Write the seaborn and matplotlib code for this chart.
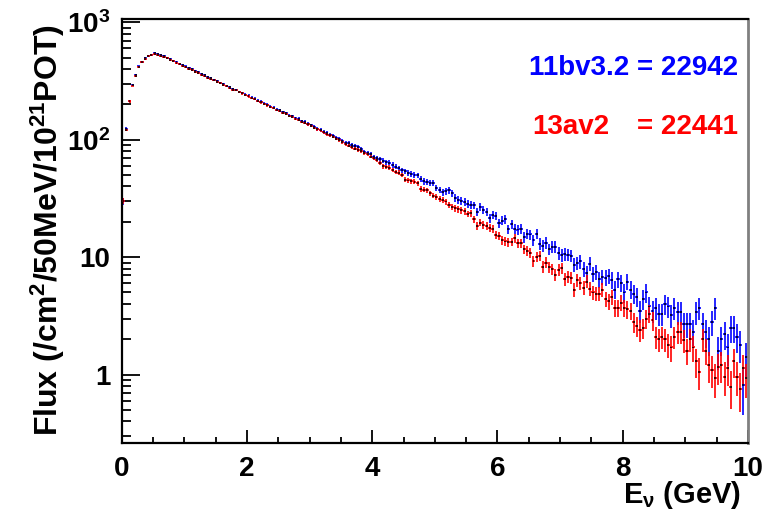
import numpy as np
import pandas as pd
import matplotlib
matplotlib.use("Agg")
import matplotlib.pyplot as plt
import seaborn as sns
from matplotlib.ticker import FixedLocator, LogLocator, MultipleLocator, NullFormatter

# -----------------------------
# Data (flux per 50 MeV bin)
# -----------------------------
BIN_WIDTH = 0.05  # GeV

flux_11bv32 = [
    30, 123, 214, 293, 356, 421, 462, 493, 520, 531,
    548, 538, 527, 513, 500, 484, 472, 457, 446, 432,
    421, 407, 398, 384, 375, 363, 354, 342, 334, 323,
    316, 305, 298, 288, 281, 271, 266, 256, 251, 242,
    237, 228, 224, 215, 211, 203, 199, 192, 188, 181,
    178, 171, 168, 161, 159, 152, 150, 144, 142, 136,
    133, 128, 124, 121, 117, 114, 110, 108, 104, 101,
    97, 94, 93, 90, 88, 86, 83, 79, 77, 75,
    71, 70, 68, 66.5, 64.5, 64, 61, 59, 57, 55,
    53.7, 52, 51, 50, 49.7, 46, 44.2, 43.5, 43, 42.8,
    39, 37.5, 35.8, 36.5, 37.2, 35, 32, 30.8, 30.2, 29.5,
    28.5, 27.9, 27.6, 24.2, 26.7, 25.3, 24.2, 21.5, 22.9, 22.5,
    19.5, 20.5, 21.1, 17.3, 19.1, 17.5, 17.2, 17.4, 14.8, 15.8,
    15.6, 14.0, 15.8, 13.0, 12.5, 13.3, 11.7, 12.3, 12.2, 10.8,
    10.4, 10.6, 10.5, 10.3, 8.6, 8.9, 9.2, 7.9, 7.3, 8.8,
    7.2, 7.5, 6.5, 6.8, 6.7, 6.9, 6.4, 5.3, 6.5, 6.0,
    5.0, 6.2, 5.3, 4.9, 4.6, 3.5, 4.4, 5.0, 3.8, 3.5,
    3.7, 3.3, 3.3, 4.0, 3.8, 3.2, 3.7, 3.4, 3.4, 2.7,
    2.7, 2.7, 2.3, 3.4, 3.7, 2.7, 2.3, 2.0, 2.8, 3.7,
    1.6, 2.0, 2.2, 1.7, 2.5, 2.5, 2.1, 1.8, 0.81, 1.4,
]

flux_13av2 = [
    30, 122, 212, 290, 352, 416, 456, 487, 513, 524,
    535, 532, 521, 507, 494, 480, 467, 453, 441, 428,
    416, 403, 393, 381, 371, 359, 350, 339, 330, 320,
    312, 302, 295, 285, 278, 268, 263, 253, 248, 240,
    234, 226, 221, 213, 208, 201, 196, 190, 186, 179,
    176, 169, 166, 160, 157, 150, 148, 143, 140, 135,
    132, 127, 123, 120, 116, 112, 109, 106, 102, 99,
    95, 92, 89, 87, 84, 82, 79.6, 77, 75, 72,
    70, 67.6, 63, 59.3, 58.5, 58, 55.5, 53, 52.5, 50.3,
    45.6, 45, 44.5, 44, 42.8, 38.2, 37.5, 37, 35.1, 33.5,
    32.4, 31.5, 30.5, 29.8, 28, 27, 26.1, 25.5, 25, 24.5,
    23.4, 23.7, 21.1, 18.5, 19.7, 18.8, 18.5, 17.7, 17.3, 15.5,
    15.2, 14.0, 13.6, 13.4, 13.5, 14.5, 13.2, 13.1, 11.7, 11.3,
    10.9, 9.2, 10.1, 10.3, 8.3, 9.0, 8.2, 7.9, 7.1, 7.8,
    8.1, 6.5, 6.8, 6.7, 5.3, 6.4, 6.0, 5.5, 6.2, 5.4,
    5.0, 4.9, 4.9, 5.3, 4.4, 4.2, 4.6, 3.7, 3.7, 4.1,
    3.7, 3.6, 3.5, 2.8, 2.6, 2.4, 2.5, 3.0, 3.3, 2.9,
    2.1, 2.0, 2.1, 2.0, 1.8, 1.7, 2.1, 2.3, 2.3, 1.97,
    1.6, 2.0, 1.7, 1.3, 1.06, 2.0, 1.6, 1.2, 1.1, 0.93,
    1.15, 1.2, 0.96, 1.13, 0.79, 1.3, 0.96, 0.76, 1.13, 0.93,
]

versions = ["11bv3.2", "13av2"]
totals = ["22942", "22441"]
colors = {"11bv3.2": "#0000ff", "13av2": "#ff0000"}
marker_colors = {"11bv3.2": "#000044", "13av2": "#440000"}
# MC statistics scale for the Poisson-like error bars
mc_scale = {"11bv3.2": 0.16, "13av2": 0.10}

energy = (np.arange(len(flux_11bv32)) + 0.5) * BIN_WIDTH
df = pd.concat([
    pd.DataFrame({"energy": energy, "flux": flux_11bv32, "version": "11bv3.2"}),
    pd.DataFrame({"energy": energy, "flux": flux_13av2, "version": "13av2"}),
], ignore_index=True)

# -----------------------------
# Style
# -----------------------------
sns.set_style("ticks")
plt.rcParams["font.family"] = ["Liberation Sans", "DejaVu Sans"]
plt.rcParams["font.weight"] = "bold"
plt.rcParams["text.color"] = "black"
plt.rcParams["xtick.color"] = "black"
plt.rcParams["ytick.color"] = "black"
plt.rcParams["mathtext.fontset"] = "custom"
plt.rcParams["mathtext.rm"] = "Liberation Sans:bold"
plt.rcParams["mathtext.it"] = "Liberation Sans:bold"
plt.rcParams["mathtext.bf"] = "Liberation Sans:bold"
plt.rcParams["mathtext.sf"] = "Liberation Sans:bold"

fig, ax = plt.subplots(figsize=(7.8, 5.19), dpi=100)
fig.subplots_adjust(left=0.156, right=0.959, bottom=0.1464, top=0.9634)

# -----------------------------
# Error bars + markers
# -----------------------------
for v in versions:
    sub = df[df["version"] == v]
    err = np.sqrt(sub["flux"].to_numpy() * mc_scale[v])
    ax.errorbar(sub["energy"], sub["flux"], xerr=BIN_WIDTH / 2, yerr=err,
                fmt="none", ecolor=colors[v], elinewidth=1.2, capsize=0)

sns.scatterplot(data=df, x="energy", y="flux", hue="version", palette=marker_colors,
                marker="s", s=2, linewidth=0, legend=False, ax=ax, zorder=3)

# -----------------------------
# Axes
# -----------------------------
ax.set_yscale("log")
ax.set_xlim(0, 10)
ax.set_ylim(0.261, 1069)
ax.yaxis.set_major_locator(FixedLocator([1, 10, 100, 1000]))
ax.set_yticklabels(["1", "10", r"10$^{2}$", r"10$^{3}$"])
ax.yaxis.set_minor_locator(LogLocator(base=10, subs=np.arange(2, 10)))
ax.yaxis.set_minor_formatter(NullFormatter())
ax.xaxis.set_major_locator(MultipleLocator(2))
ax.xaxis.set_minor_locator(MultipleLocator(0.5))
ax.set_xlabel("")
ax.set_ylabel("")

ax.tick_params(axis="both", which="both", direction="in", top=False, right=False,
               labelsize=20, width=1.3, color="black", labelcolor="black")
ax.tick_params(axis="y", which="major", length=13, pad=8)
ax.tick_params(axis="y", which="minor", length=6.5)
ax.tick_params(axis="x", which="major", length=9.5, pad=9)
ax.tick_params(axis="x", which="minor", length=4.5)
for lab in ax.get_xticklabels() + ax.get_yticklabels():
    lab.set_fontweight("bold")

for side in ["left", "bottom", "top"]:
    ax.spines[side].set_color("black")
    ax.spines[side].set_linewidth(1.6)
ax.spines["right"].set_color("#808080")
ax.spines["right"].set_linewidth(2)

fig.text(741 / 780, 1 - 495 / 519, r"E$_{\nu}$ (GeV)", ha="right", va="center",
         fontsize=21, fontweight="bold")
fig.text(48 / 780, 1 - 230 / 519, r"Flux (/cm$^{2}$/50MeV/10$^{21}$POT)",
         rotation=90, ha="center", va="center", fontsize=23, fontweight="bold")

# version labels with totals
ax.text(738 / 780, 1 - 68 / 519, f"{versions[0]} = {totals[0]}", transform=fig.transFigure,
        ha="right", va="center", color=colors[versions[0]], fontsize=20, fontweight="bold")
ax.text(532 / 780, 1 - 127 / 519, versions[1], transform=fig.transFigure,
        ha="left", va="center", color=colors[versions[1]], fontsize=20, fontweight="bold")
ax.text(738 / 780, 1 - 127 / 519, f"= {totals[1]}", transform=fig.transFigure,
        ha="right", va="center", color=colors[versions[1]], fontsize=20, fontweight="bold")

fig.savefig("out.png", dpi=100)
